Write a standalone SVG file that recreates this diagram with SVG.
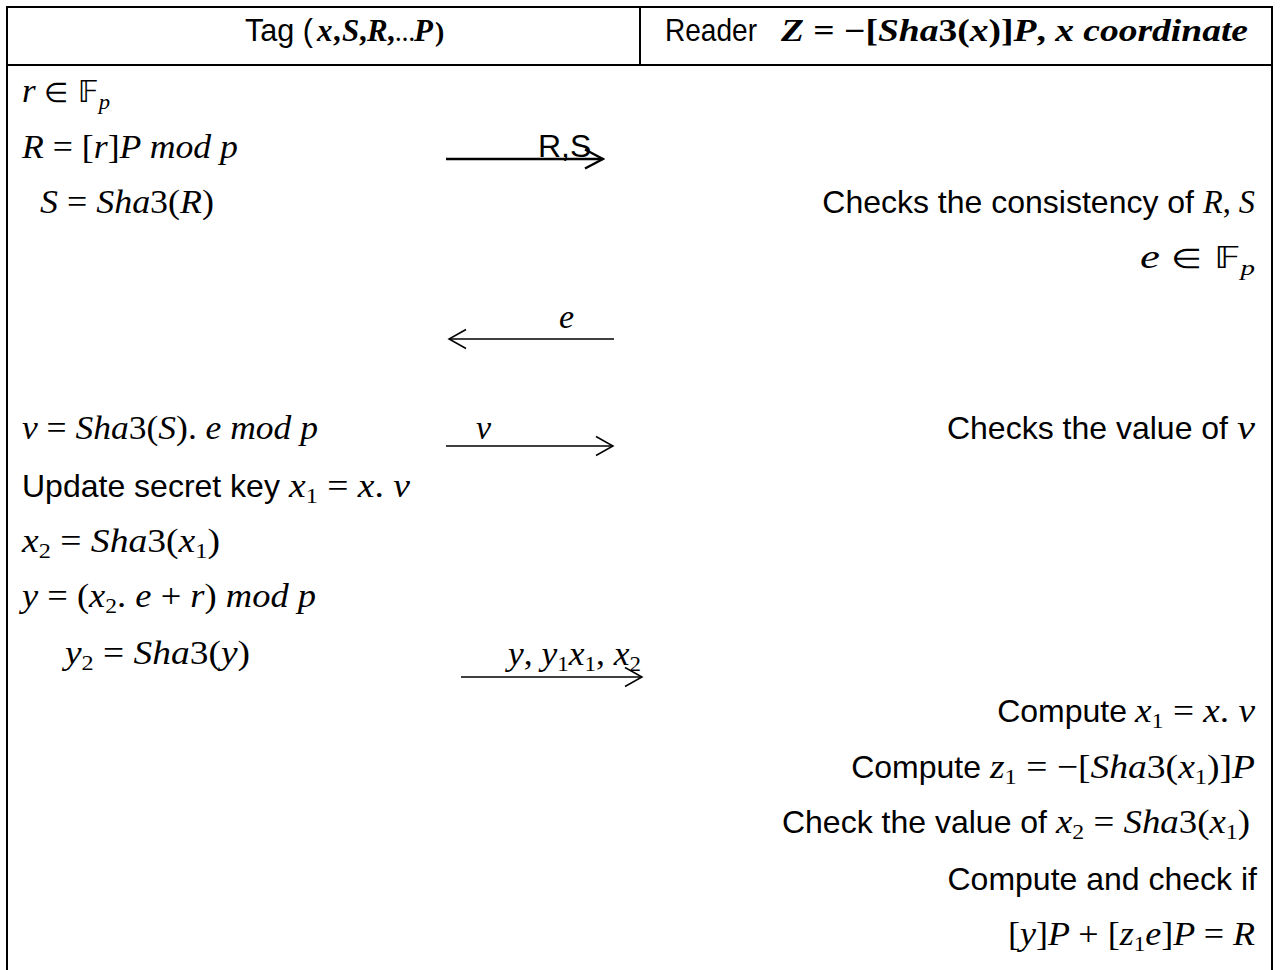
<svg xmlns="http://www.w3.org/2000/svg" width="1280" height="970" viewBox="0 0 1280 970">
<style>
.t{font-family:"Liberation Sans",Arial,sans-serif;font-size:32px;fill:#000}
.m{font-family:"Liberation Serif","Times New Roman",serif;font-style:italic;font-size:34px;fill:#000}
.u{font-style:normal}
.s{font-size:22px}
.el{font-size:27px;font-style:normal}
.ds{font-family:"DejaVu Sans","DejaVu Serif",sans-serif;font-style:normal;font-size:30px}
.bd{font-weight:bold}
.hm{font-size:31px}
.grid{stroke:#000;stroke-width:2;fill:none}
.conn{fill:none;stroke:#000}
</style>
<defs>
<marker id="chev" markerUnits="userSpaceOnUse" viewBox="-20 -12 22 24" markerWidth="22" markerHeight="24" refX="0" refY="0" orient="auto-start-reverse">
<path d="M-17,-9.5 L0,0 L-17,9.5" fill="none" stroke="#000" stroke-width="1.5"/>
</marker>
<marker id="chevB" markerUnits="userSpaceOnUse" viewBox="-20 -12 22 24" markerWidth="22" markerHeight="24" refX="0" refY="0" orient="auto-start-reverse">
<path d="M-18,-9.5 L0,0 L-18,9.5" fill="none" stroke="#000" stroke-width="2.5"/>
</marker>
</defs>
<rect width="1280" height="970" fill="#fff"/>

<g id="table" class="grid">
<path d="M7,970 V7 H1272 V970"/>
<path d="M7,65 H1272"/>
<path d="M640,7 V65"/>
</g>

<g id="header-tag">
<text class="t" x="245" y="41" textLength="68" lengthAdjust="spacingAndGlyphs">Tag (</text>
<text class="m bd hm" y="41"><tspan x="317">x</tspan><tspan class="u" x="333">,</tspan><tspan x="342">S</tspan><tspan class="u" x="359">,</tspan><tspan x="367">R</tspan><tspan class="u" x="387">,</tspan><tspan class="u" x="395" style="font-size:20px">…</tspan><tspan x="414">P</tspan><tspan class="u" x="435" style="font-size:28px">)</tspan></text>
</g>
<g id="header-reader">
<text class="t" x="665" y="41" textLength="92" lengthAdjust="spacingAndGlyphs">Reader</text>
<text class="m bd hm" x="781" y="41" textLength="467" lengthAdjust="spacingAndGlyphs">Z <tspan class="u">= −[</tspan>Sha<tspan class="u">3(</tspan>x<tspan class="u">)]</tspan>P<tspan class="u">,</tspan> x coordinate</text>
</g>

<g id="tag-steps">
<text class="m" x="22" y="102" textLength="88" lengthAdjust="spacingAndGlyphs">r <tspan class="el">∈</tspan> <tspan class="ds">𝔽</tspan><tspan class="s" dy="7">p</tspan></text>
<text class="m" x="22" y="158" textLength="216" lengthAdjust="spacingAndGlyphs">R <tspan class="u">= [</tspan>r<tspan class="u">]</tspan>P mod p</text>
<text class="m" x="40" y="213" textLength="174" lengthAdjust="spacingAndGlyphs">S <tspan class="u">=</tspan> Sha<tspan class="u">3(</tspan>R<tspan class="u">)</tspan></text>
<text class="m" x="22" y="439" textLength="296" lengthAdjust="spacingAndGlyphs">v <tspan class="u">=</tspan> Sha<tspan class="u">3(</tspan>S<tspan class="u">).</tspan> e mod p</text>
<text class="t" x="22" y="497">Update secret key</text>
<text class="m" x="289" y="497" textLength="121" lengthAdjust="spacingAndGlyphs">x<tspan class="s u" dy="6">1</tspan><tspan class="u" dy="-6"> = </tspan>x<tspan class="u">.</tspan> v</text>
<text class="m" x="22" y="552" textLength="198" lengthAdjust="spacingAndGlyphs">x<tspan class="s u" dy="6">2</tspan><tspan class="u" dy="-6"> = </tspan>Sha<tspan class="u">3(</tspan>x<tspan class="s u" dy="6">1</tspan><tspan class="u" dy="-6">)</tspan></text>
<text class="m" x="22" y="607" textLength="294" lengthAdjust="spacingAndGlyphs">y <tspan class="u">= (</tspan>x<tspan class="s u" dy="6">2</tspan><tspan class="u" dy="-6">.</tspan> e <tspan class="u">+</tspan> r<tspan class="u">)</tspan> mod p</text>
<text class="m" x="65" y="664" textLength="185" lengthAdjust="spacingAndGlyphs">y<tspan class="s u" dy="6">2</tspan><tspan class="u" dy="-6"> = </tspan>Sha<tspan class="u">3(</tspan>y<tspan class="u">)</tspan></text>
</g>

<g id="reader-steps">
<text class="t" x="1194" y="213" text-anchor="end">Checks the consistency of</text>
<text class="m" x="1203" y="213" textLength="52" lengthAdjust="spacingAndGlyphs">R<tspan class="u">,</tspan> S</text>
<text class="m" x="1140" y="268" textLength="115" lengthAdjust="spacingAndGlyphs">e <tspan class="el">∈</tspan> <tspan class="ds">𝔽</tspan><tspan class="s" dy="7">p</tspan></text>
<text class="t" x="1228" y="439" text-anchor="end">Checks the value of</text>
<text class="m" x="1237" y="439" textLength="18" lengthAdjust="spacingAndGlyphs">v</text>
<text class="t" x="1127" y="722" text-anchor="end">Compute</text>
<text class="m" x="1135" y="722" textLength="120" lengthAdjust="spacingAndGlyphs">x<tspan class="s u" dy="6">1</tspan><tspan class="u" dy="-6"> = </tspan>x<tspan class="u">.</tspan> v</text>
<text class="t" x="981" y="778" text-anchor="end">Compute</text>
<text class="m" x="990" y="778" textLength="265" lengthAdjust="spacingAndGlyphs">z<tspan class="s u" dy="6">1</tspan><tspan class="u" dy="-6"> = −[</tspan>Sha<tspan class="u">3(</tspan>x<tspan class="s u" dy="6">1</tspan><tspan class="u" dy="-6">)]</tspan>P</text>
<text class="t" x="1047" y="833" text-anchor="end">Check the value of</text>
<text class="m" x="1056" y="833" textLength="194" lengthAdjust="spacingAndGlyphs">x<tspan class="s u" dy="6">2</tspan><tspan class="u" dy="-6"> = </tspan>Sha<tspan class="u">3(</tspan>x<tspan class="s u" dy="6">1</tspan><tspan class="u" dy="-6">)</tspan></text>
<text class="t" x="1257" y="890" text-anchor="end">Compute and check if</text>
<text class="m" x="1008" y="945" textLength="247" lengthAdjust="spacingAndGlyphs"><tspan class="u">[</tspan>y<tspan class="u">]</tspan>P <tspan class="u">+ [</tspan>z<tspan class="s u" dy="6">1</tspan><tspan dy="-6">e</tspan><tspan class="u">]</tspan>P <tspan class="u">=</tspan> R</text>
</g>

<g id="connectors">
<line class="conn" x1="446" y1="159" x2="603" y2="159" stroke-width="2.5" marker-end="url(#chevB)"/>
<line class="conn" x1="449" y1="339" x2="614" y2="339" stroke-width="1.3" marker-start="url(#chev)"/>
<line class="conn" x1="446" y1="446" x2="613" y2="446" stroke-width="1.5" stroke="#404040" marker-end="url(#chev)"/>
<line class="conn" x1="461" y1="677" x2="642" y2="677" stroke-width="1.3" marker-end="url(#chev)"/>
</g>

<g id="labels">
<text class="t" x="538" y="157">R,S</text>
<text class="m" x="559" y="328">e</text>
<text class="m" x="476" y="439">v</text>
<text class="m" x="508" y="665" textLength="133" lengthAdjust="spacingAndGlyphs">y<tspan class="u">,</tspan> y<tspan class="s u" dy="6">1</tspan><tspan dy="-6">x</tspan><tspan class="s u" dy="6">1</tspan><tspan class="u" dy="-6">,</tspan> x<tspan class="s u" dy="6">2</tspan></text>
</g>
</svg>
